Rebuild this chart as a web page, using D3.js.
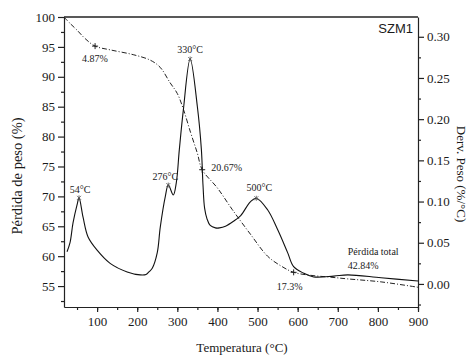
<html>
  <head>
    <style>
      body { margin: 0; background: #fff; }
      text { font-family: "Liberation Serif", "Times New Roman", serif; fill: #1a1a1a; }
      .tg { stroke: #222; stroke-width: 1; fill: none; stroke-dasharray: 5,2,1,2; }
      .dtg { stroke: #111; stroke-width: 1.1; fill: none; }
      .axis path, .axis line { stroke: #222; stroke-width: 1.2; }
      .axis text { font-size: 13px; font-family: "Liberation Serif", serif; fill: #1a1a1a; }
    </style>
    <script src="https://d3js.org/d3.v7.min.js"></script>
  </head>
  <body></body>
</html>

<script>
  // TG curve (left axis, % weight)
  var tgTemp = [17.5, 30, 50, 70, 95, 133, 190, 232, 257, 282, 300, 315, 333, 350, 362, 400, 437, 482, 525, 560, 590, 632, 680, 725, 808, 900];
  var tgWeight = [100, 99.1, 97.8, 96.4, 95.13, 94.5, 93.7, 92.8, 91.6, 89.0, 87.2, 84.6, 80.7, 77.2, 74.46, 71.4, 67.8, 63.7, 60.0, 58.3, 57.3, 56.8, 56.5, 56.2, 55.7, 54.8];

  // DTG curve (right axis, %/°C)
  var dtgTemp = [25, 32.5, 40, 50, 55, 65, 77.5, 100, 132.5, 175, 207.5, 222, 230, 237.5, 250, 257.5, 270, 277.5, 290, 297.5, 305, 315, 332, 350, 360, 364, 368, 374, 382, 395, 405, 420, 440, 458, 482, 497, 525, 550, 575, 590, 615, 640, 690, 725, 808, 900];
  var dtgValue = [0.039, 0.050, 0.074, 0.096, 0.1045, 0.081, 0.057, 0.041, 0.025, 0.0146, 0.011, 0.0115, 0.015, 0.019, 0.038, 0.069, 0.106, 0.120, 0.108, 0.123, 0.163, 0.211, 0.273, 0.215, 0.163, 0.12, 0.092, 0.079, 0.071, 0.068, 0.068, 0.070, 0.076, 0.083, 0.0996, 0.104, 0.090, 0.066, 0.038, 0.021, 0.013, 0.0085, 0.0095, 0.011, 0.0075, 0.0036];

  // peak labels on DTG
  var peakTemp = [55, 277.5, 332, 497];
  var peakLabels = ["54°C", "276°C", "330°C", "500°C"];

  // weight-loss steps on TG
  var stepTemp = [95, 362, 590];
  var stepWeight = [95.13, 74.46, 57.3];
  var stepLabels = ["4.87%", "20.67%", "17.3%"];

  var xTicks = [100, 200, 300, 400, 500, 600, 700, 800, 900];
  var yLeftTicks = [55, 60, 65, 70, 75, 80, 85, 90, 95, 100];
  var yRightTicks = [0, 0.05, 0.10, 0.15, 0.20, 0.25, 0.30];

  var width = 469, height = 356;
  var margin = { left: 64, top: 17, right: 51, bottom: 49 };
  var w = width - margin.left - margin.right;
  var h = height - margin.top - margin.bottom;

  var svg = d3.select("body").append("svg")
    .attr("width", width)
    .attr("height", height);

  var g = svg.append("g")
    .attr("transform", "translate(" + margin.left + "," + margin.top + ")");

  var x = d3.scaleLinear().domain([17.5, 900]).range([0, w]);
  var yL = d3.scaleLinear().domain([51.5, 100]).range([h, 0]);
  var yR = d3.scaleLinear().domain([-0.028, 0.324]).range([h, 0]);

  // minor ticks first
  g.append("g").attr("class", "axis")
    .attr("transform", "translate(0," + h + ")")
    .call(d3.axisBottom(x).tickValues(d3.range(50, 901, 50)).tickSize(3).tickFormat(""))
    .select(".domain").remove();
  g.append("g").attr("class", "axis")
    .call(d3.axisLeft(yL).tickValues(d3.range(52.5, 100, 5)).tickSize(3).tickFormat(""))
    .select(".domain").remove();
  g.append("g").attr("class", "axis")
    .attr("transform", "translate(" + w + ",0)")
    .call(d3.axisRight(yR).tickValues([-0.025, 0.025, 0.075, 0.125, 0.175, 0.225, 0.275]).tickSize(3).tickFormat(""))
    .select(".domain").remove();

  // major axes
  g.append("g").attr("class", "axis")
    .attr("transform", "translate(0," + h + ")")
    .call(d3.axisBottom(x).tickValues(xTicks).tickSize(5).tickSizeOuter(0).tickPadding(5));
  g.append("g").attr("class", "axis")
    .call(d3.axisLeft(yL).tickValues(yLeftTicks).tickSize(6).tickSizeOuter(0).tickPadding(3));
  g.append("g").attr("class", "axis")
    .attr("transform", "translate(" + w + ",0)")
    .call(d3.axisRight(yR).tickValues(yRightTicks).tickSize(6).tickSizeOuter(0).tickPadding(3)
      .tickFormat(d3.format(".2f")));

  // top frame line
  g.append("line")
    .attr("x1", 0).attr("x2", w).attr("y1", 0).attr("y2", 0)
    .attr("stroke", "#222").attr("stroke-width", 1.3);

  var tgData = tgTemp.map((t, i) => ({ t: t, v: tgWeight[i] }));
  var dtgData = dtgTemp.map((t, i) => ({ t: t, v: dtgValue[i] }));

  var tgLine = d3.line().x(d => x(d.t)).y(d => yL(d.v)).curve(d3.curveCatmullRom.alpha(0.5));
  var dtgLine = d3.line().x(d => x(d.t)).y(d => yR(d.v)).curve(d3.curveCatmullRom.alpha(0.5));

  g.append("path").attr("class", "tg").attr("d", tgLine(tgData));
  g.append("path").attr("class", "dtg").attr("d", dtgLine(dtgData));

  // interpolate DTG value at a temperature from the plotted points
  function dtgAt(t) {
    var i = d3.bisectRight(dtgTemp, t);
    if (i <= 0) return dtgValue[0];
    if (i >= dtgTemp.length) return dtgValue[dtgValue.length - 1];
    var k = (t - dtgTemp[i - 1]) / (dtgTemp[i] - dtgTemp[i - 1]);
    return dtgValue[i - 1] + k * (dtgValue[i] - dtgValue[i - 1]);
  }

  // peak markers (small stars) and labels
  var peakOff = [[1, -5], [-3, -5], [0, -6], [3, -7]];
  peakTemp.forEach((t, i) => {
    var px = x(t), py = yR(dtgAt(t));
    g.append("path")
      .attr("d", "M-2,-2L2,2M2,-2L-2,2M0,-2.5L0,2.5")
      .attr("transform", "translate(" + px + "," + py + ")")
      .attr("stroke", "#555").attr("stroke-width", 0.8);
    g.append("text")
      .attr("x", px + peakOff[i][0]).attr("y", py + peakOff[i][1])
      .attr("text-anchor", "middle")
      .style("font-size", "10px")
      .text(peakLabels[i]);
  });

  // step markers (+) and labels
  var stepOff = [[-13, 16], [9, 1], [-17, 18]];
  stepTemp.forEach((t, i) => {
    var px = x(t), py = yL(stepWeight[i]);
    g.append("path")
      .attr("d", "M-3,0L3,0M0,-3L0,3")
      .attr("transform", "translate(" + px + "," + py + ")")
      .attr("stroke", "#222").attr("stroke-width", 1);
    g.append("text")
      .attr("x", px + stepOff[i][0]).attr("y", py + stepOff[i][1])
      .style("font-size", "10px")
      .text(stepLabels[i]);
  });

  g.append("text")
    .attr("x", x(725)).attr("y", yR(0.0355))
    .style("font-size", "10px")
    .text("Pérdida total");
  g.append("text")
    .attr("x", x(725)).attr("y", yR(0.0185))
    .style("font-size", "10px")
    .text("42.84%");

  g.append("text")
    .attr("x", w - 5).attr("y", 16)
    .attr("text-anchor", "end")
    .style("font-family", "'Liberation Sans', Arial, sans-serif")
    .style("font-size", "13px")
    .text("SZM1");

  // axis titles
  svg.append("text")
    .attr("x", margin.left + w / 2 + 1).attr("y", 352)
    .attr("text-anchor", "middle")
    .style("font-size", "13px")
    .text("Temperatura (°C)");

  svg.append("text")
    .attr("transform", "translate(22,176) rotate(-90)")
    .attr("text-anchor", "middle")
    .style("font-size", "14.5px")
    .text("Pérdida de peso (%)");

  svg.append("text")
    .attr("transform", "translate(457,174) rotate(90)")
    .attr("text-anchor", "middle")
    .style("font-size", "13px")
    .text("Derv. Peso (%/°C)");
</script>
